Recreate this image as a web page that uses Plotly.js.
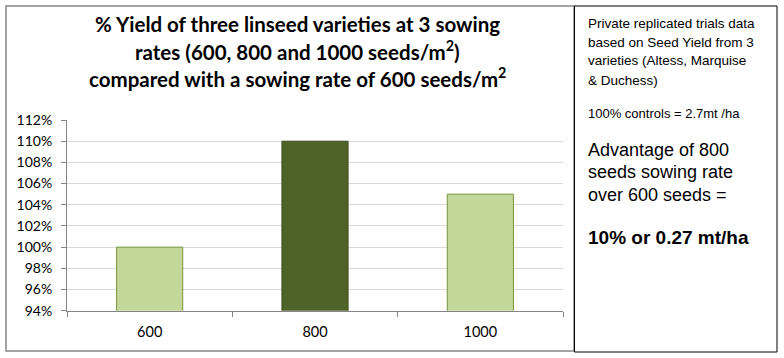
<!DOCTYPE html>
<html>
<head>
<meta charset="utf-8">
<script src="https://cdn.plot.ly/plotly-3.0.1.min.js"></script>
<style>html,body{margin:0;padding:0;background:#fff;}#chart{width:784px;height:358px;}</style>
</head>
<body>
<div id="chart"></div>
<script>
// Data
var categories = ['600', '800', '1000'];
var yieldPct = [1.00, 1.10, 1.05];
var barColors = ['#C4D79B', '#4F6228', '#C4D79B'];
var barLineColors = ['#77933C', '#3F4F1F', '#77933C'];
var titleLines = [
  '% Yield of three linseed varieties at 3 sowing',
  'rates (600, 800 and 1000 seeds/m<sup>2</sup>)',
  'compared with a sowing rate of 600 seeds/m<sup>2</sup>'
];
var noteSmall = [
  'Private replicated trials data',
  'based on Seed Yield from 3',
  'varieties (Altess, Marquise',
  '& Duchess)'
];
var noteControl = '100% controls = 2.7mt /ha';
var noteAdvantage = ['Advantage of 800', 'seeds sowing rate', 'over 600 seeds ='];
var noteResult = '10% or 0.27 mt/ha';

var W = 784, H = 358;
function px(x) { return x / W; }
function py(y) { return 1 - y / H; }

var trace = {
  type: 'bar',
  x: categories,
  y: yieldPct,
  width: 0.4,
  marker: { color: barColors, line: { color: barLineColors, width: 1 } },
  hoverinfo: 'x+y'
};

var annotations = [];
var titleY = [24, 51, 78];
titleLines.forEach(function (t, i) {
  annotations.push({
    xref: 'paper', yref: 'paper', x: px(297), y: py(titleY[i]),
    xanchor: 'center', yanchor: 'middle', showarrow: false, text: t,
    font: { family: 'Lato, sans-serif', size: 20.5, color: '#000', weight: 'bold' }
  });
});
var smallY = [23, 42, 61, 80];
noteSmall.forEach(function (t, i) {
  annotations.push({
    xref: 'paper', yref: 'paper', x: px(586), y: py(smallY[i]),
    xanchor: 'left', yanchor: 'middle', showarrow: false, text: t,
    font: { family: 'Liberation Sans, Arial, sans-serif', size: 13.5, color: '#000' }
  });
});
annotations.push({
  xref: 'paper', yref: 'paper', x: px(586), y: py(114),
  xanchor: 'left', yanchor: 'middle', showarrow: false, text: noteControl,
  font: { family: 'Liberation Sans, Arial, sans-serif', size: 13, color: '#000' }
});
var advY = [150, 172, 195];
noteAdvantage.forEach(function (t, i) {
  annotations.push({
    xref: 'paper', yref: 'paper', x: px(586), y: py(advY[i]),
    xanchor: 'left', yanchor: 'middle', showarrow: false, text: t,
    font: { family: 'Liberation Sans, Arial, sans-serif', size: 18, color: '#000' }
  });
});
annotations.push({
  xref: 'paper', yref: 'paper', x: px(586), y: py(237),
  xanchor: 'left', yanchor: 'middle', showarrow: false, text: '<b>' + noteResult + '</b>',
  font: { family: 'Liberation Sans, Arial, sans-serif', size: 19, color: '#000' }
});

var layout = {
  width: W, height: H,
  margin: { l: 0, r: 0, t: 0, b: 0 },
  paper_bgcolor: '#fff', plot_bgcolor: '#fff',
  showlegend: false,
  xaxis: {
    type: 'category',
    domain: [px(67), px(563)],
    tickson: 'boundaries',
    ticks: 'outside', ticklen: 5, tickcolor: '#868686',
    ticklabelstandoff: 8,
    showline: true, linecolor: '#868686', linewidth: 1,
    showgrid: false, zeroline: false,
    tickfont: { family: 'Lato, sans-serif', size: 14.5, color: '#000' },
    fixedrange: true
  },
  yaxis: {
    domain: [py(310.7), py(120)],
    range: [0.94, 1.12],
    dtick: 0.02, tick0: 0.94,
    tickformat: '.0%',
    ticks: 'outside', ticklen: 5, tickcolor: '#868686',
    ticklabelstandoff: 6,
    showline: true, linecolor: '#868686', linewidth: 1,
    showgrid: true, gridcolor: '#D9D9D9', gridwidth: 1,
    zeroline: false,
    tickfont: { family: 'Lato, sans-serif', size: 14, color: '#000' },
    fixedrange: true
  },
  shapes: [
    { type: 'rect', xref: 'paper', yref: 'paper', x0: px(6), x1: px(574), y0: py(351), y1: py(6),
      line: { color: '#868686', width: 1.5 }, fillcolor: 'rgba(0,0,0,0)', layer: 'below' },
    { type: 'rect', xref: 'paper', yref: 'paper', x0: px(574.5), x1: px(777), y0: py(352), y1: py(6),
      line: { color: '#000', width: 1 }, fillcolor: 'rgba(0,0,0,0)' }
  ],
  annotations: annotations
};

Plotly.newPlot('chart', [trace], layout, { displayModeBar: false, staticPlot: true });
</script>
</body>
</html>
